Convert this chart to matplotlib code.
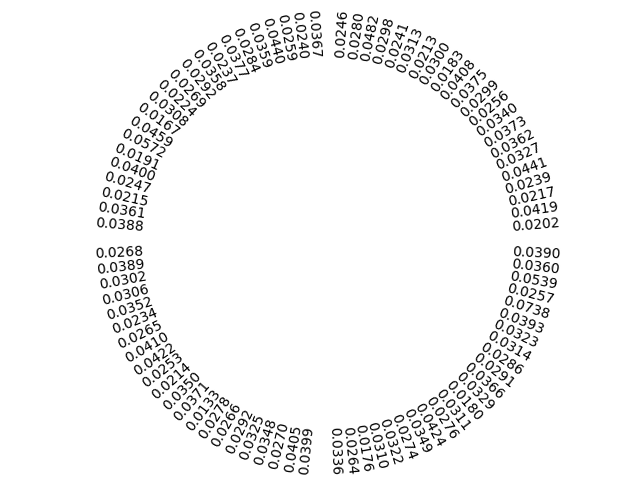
import numpy as np
import matplotlib
matplotlib.use('Agg')
import matplotlib.pyplot as plt

# label values per quadrant, counter-clockwise starting from the right
q_top_right = [0.0202, 0.0419, 0.0217, 0.0239, 0.0441, 0.0327, 0.0362, 0.0373, 0.0340, 0.0256, 0.0299,
               0.0375, 0.0408, 0.0183, 0.0300, 0.0213, 0.0313, 0.0241, 0.0298, 0.0482, 0.0280, 0.0246]
q_top_left = [0.0367, 0.0240, 0.0259, 0.0440, 0.0359, 0.0284, 0.0377, 0.0237, 0.0358, 0.0292, 0.0269,
              0.0224, 0.0308, 0.0167, 0.0459, 0.0572, 0.0191, 0.0400, 0.0247, 0.0215, 0.0361, 0.0388]
q_bottom_left = [0.0268, 0.0389, 0.0302, 0.0306, 0.0352, 0.0234, 0.0265, 0.0410, 0.0422, 0.0253, 0.0214,
                 0.0350, 0.0371, 0.0133, 0.0278, 0.0266, 0.0292, 0.0325, 0.0348, 0.0270, 0.0405, 0.0399]
q_bottom_right = [0.0336, 0.0264, 0.0176, 0.0310, 0.0322, 0.0274, 0.0349, 0.0424, 0.0276, 0.0311, 0.0180,
                  0.0329, 0.0366, 0.0291, 0.0286, 0.0314, 0.0323, 0.0393, 0.0738, 0.0257, 0.0539, 0.0360, 0.0390]

# one empty slot before each group
values = []
for grp in [q_top_right, q_top_left, q_bottom_left, q_bottom_right]:
    values.append(None)
    values.extend(grp)

N = len(values)
angles = np.linspace(0, 2*np.pi, N, endpoint=False) + np.deg2rad(1.0)

fig = plt.figure(figsize=(6.4, 4.8), dpi=100)
ax = fig.add_subplot(111, projection='polar')
ax.set_ylim(0, 1)
ax.axis('off')

for ang, v in zip(angles, values):
    if v is None:
        continue
    rot = np.rad2deg(ang)
    if np.pi/2 <= ang < 3*np.pi/2:
        ha = 'right'
        rot = rot + 180
    else:
        ha = 'left'
    ax.text(ang, 1, '{:.4f}'.format(v), ha=ha, va='center', rotation=rot, rotation_mode='anchor')

fig.savefig('out.png')
